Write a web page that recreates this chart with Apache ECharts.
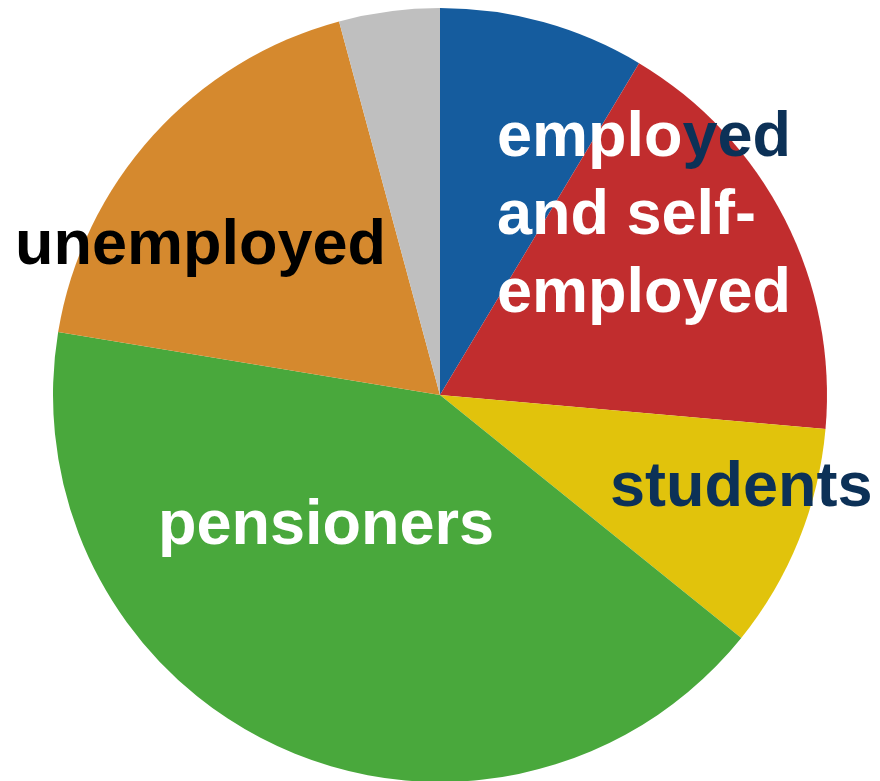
<!DOCTYPE html>
<html>
<head>
<meta charset="utf-8">
<script src="https://cdn.jsdelivr.net/npm/echarts@6/dist/echarts.min.js"></script>
<style>
html,body{margin:0;padding:0;background:#fff;}
#c{width:880px;height:781px;}
</style>
</head>
<body>
<div id="c"></div>
<script>
var categories = ['employed', 'self-employed', 'students', 'pensioners', 'unemployed', 'other'];
var shares = [8.6, 17.8, 9.4, 41.8, 18.2, 4.2];
var sliceColors = ['#155c9e', '#c12d2e', '#e1c30c', '#49a83c', '#d5892e', '#bfbfbf'];

var chart = echarts.init(document.getElementById('c'), null, {renderer: 'canvas'});
var FF = '"Liberation Sans", Arial, Helvetica, sans-serif';
var FS = 63;
var OFF = 48;
var NAVY = '#0c3157';
function txt(x, baseline, text, color) {
  return {
    type: 'text', left: x, top: baseline - OFF, z: 10,
    style: {text: text, fill: color, font: 'bold ' + FS + 'px ' + FF}
  };
}
chart.setOption({
  animation: false,
  series: [{
    type: 'pie',
    center: [440, 395],
    radius: [0, 387],
    startAngle: 90,
    clockwise: true,
    label: {show: false},
    labelLine: {show: false},
    emphasis: {disabled: true},
    itemStyle: {borderWidth: 0},
    data: categories.map(function (c, i) {
      return {name: c, value: shares[i], itemStyle: {color: sliceColors[i]}};
    })
  }],
  graphic: [
    {
      type: 'text', left: 497, top: 155 - OFF, z: 10,
      style: {
        text: '{w|emplo}{n|yed}',
        font: 'bold ' + FS + 'px ' + FF,
        rich: {
          w: {fill: '#ffffff', font: 'bold ' + FS + 'px ' + FF},
          n: {fill: NAVY, font: 'bold ' + FS + 'px ' + FF}
        }
      }
    },
    txt(497, 233, 'and self-', '#ffffff'),
    txt(497, 311, 'employed', '#ffffff'),
    txt(610, 505, 'students', NAVY),
    txt(158, 543, 'pensioners', '#ffffff'),
    txt(15, 263, 'unemployed', '#000000')
  ]
});
</script>
</body>
</html>
